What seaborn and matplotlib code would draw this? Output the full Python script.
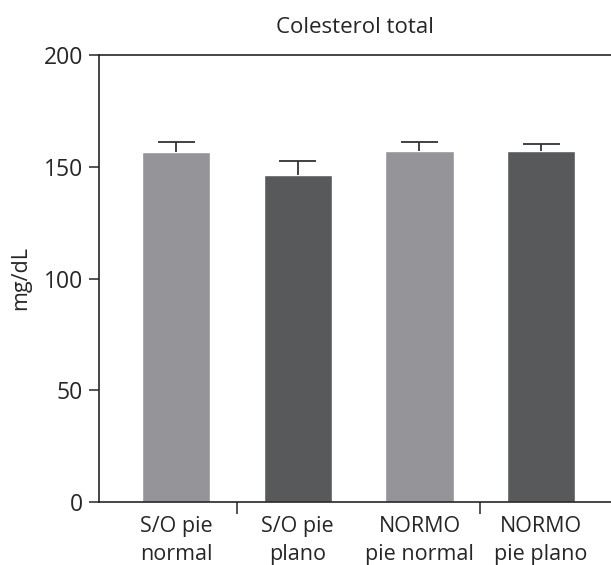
import matplotlib
matplotlib.use("Agg")
import matplotlib.pyplot as plt
import seaborn as sns
import numpy as np
import pandas as pd

# Total cholesterol by group (mean and upper SEM)
categories = ["S/O pie\nnormal", "S/O pie\nplano", "NORMO\npie normal", "NORMO\npie plano"]
means = [156.5, 146.5, 157.0, 157.0]
sem = [4.5, 6.0, 4.0, 3.1]
colors = ["#959599", "#58595b", "#959599", "#58595b"]
yticks = [0, 50, 100, 150, 200]
title = "Colesterol total"
ylabel = "mg/dL"

sns.set_theme(style="white")
plt.rcParams["font.family"] = ["Open Sans", "DejaVu Sans"]

ink = "#262626"
fig = plt.figure(figsize=(6.11, 5.65), dpi=100)
ax = fig.add_axes([99 / 611, 63 / 565, 512 / 611, 447 / 565])

df = pd.DataFrame({"grupo": categories, "valor": means})
sns.barplot(data=df, x="grupo", y="valor", hue="grupo", palette=colors,
            width=0.56, legend=False, ax=ax, errorbar=None, saturation=1)

# upper-only error bars with caps
x = np.arange(len(categories))
tops = np.array(means) + np.array(sem)
ax.vlines(x, means, tops, color="#333333", linewidth=1.3, zorder=3)
ax.hlines(tops, x - 0.152, x + 0.152, color="#333333", linewidth=1.3, zorder=3)

ax.set_xlim(-0.633, 3.574)
ax.set_ylim(0, 200)
ax.set_yticks(yticks)
ax.set_yticklabels([str(v) for v in yticks], fontsize=16.5, color=ink)
ax.set_xticks(x)
ax.set_xticklabels(categories, fontsize=15.5, color=ink, linespacing=1.42)
ax.tick_params(axis="x", which="major", length=0, pad=10)
ax.tick_params(axis="y", left=True, length=7.2, width=1.1, color=ink,
               direction="out", pad=4.3)
# separators between the group pairs
ax.set_xticks([0.5, 2.5], minor=True)
ax.tick_params(axis="x", which="minor", bottom=True, length=8.6, width=1.1,
               color=ink, direction="out")

for side in ["left", "bottom", "top"]:
    ax.spines[side].set_visible(True)
    ax.spines[side].set_color(ink)
    ax.spines[side].set_linewidth(1.2)
ax.spines["right"].set_visible(False)

ax.set_xlabel("")
ax.set_ylabel(ylabel, fontsize=15.5, color=ink)
ax.yaxis.set_label_coords(-0.133, 0.5)
ax.set_title(title, fontsize=16, color=ink, pad=16)

fig.savefig("out.png", dpi=100)
